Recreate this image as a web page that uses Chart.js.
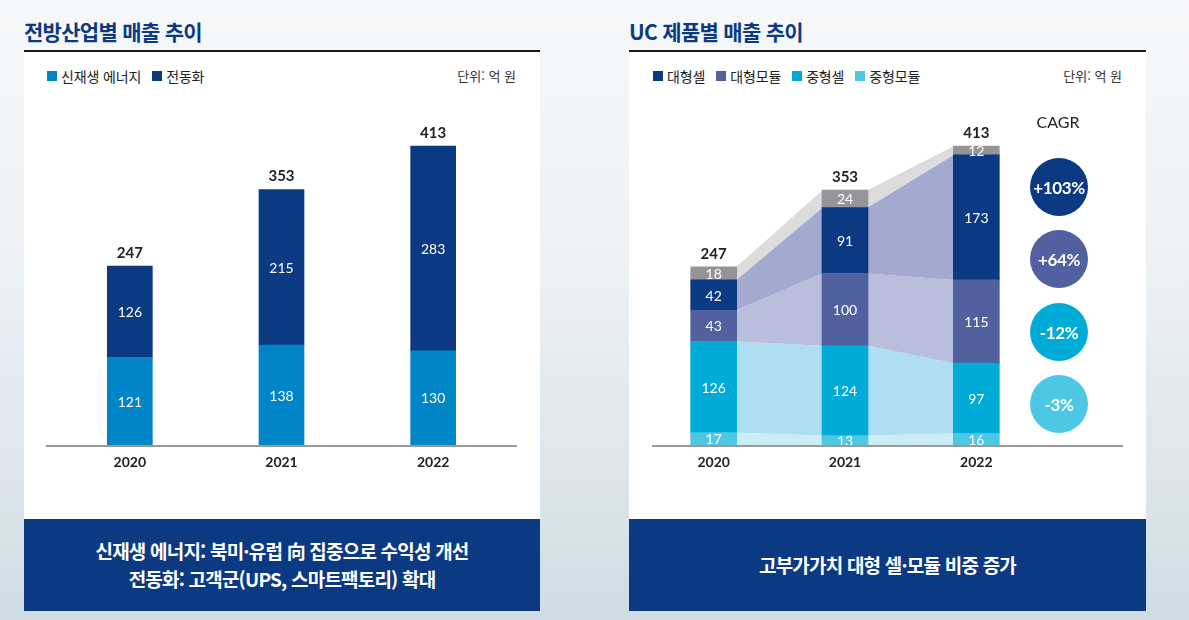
<!DOCTYPE html>
<html lang="ko">
<head>
<meta charset="utf-8">
<script src="https://cdn.jsdelivr.net/npm/chart.js@4/dist/chart.umd.min.js"></script>
<style>
  html,body{margin:0;padding:0;}
  body{width:1189px;height:620px;overflow:hidden;position:relative;
    background:linear-gradient(to bottom,#f6f8fa 0%,#eef2f5 40%,#dde6ec 75%,#cfdce4 100%);
    font-family:"Noto Sans CJK KR","Noto Sans",sans-serif;}
  .title{position:absolute;top:17px;font-size:21px;font-weight:700;color:#0b3a82;letter-spacing:-0.7px;line-height:28px;white-space:nowrap;}
  .rule{position:absolute;top:50px;height:2px;background:#1a1a1a;}
  .card{position:absolute;top:52px;height:467px;background:#fff;}
  .box{position:absolute;top:519px;height:92px;background:#0b3a82;color:#fff;font-weight:700;font-size:19px;letter-spacing:-0.8px;
    display:flex;flex-direction:column;justify-content:center;align-items:center;line-height:28px;}
  .legend{position:absolute;top:66px;display:flex;align-items:center;font-size:14px;color:#222;letter-spacing:-0.15px;line-height:20px;}
  .legend .it{display:flex;align-items:center;margin-right:11px;}
  .legend .sw{width:10px;height:10px;margin-right:4px;}
  .unit{position:absolute;top:67px;font-size:13px;color:#333;line-height:18px;text-align:right;white-space:nowrap;}
  canvas{position:absolute;top:52px;}
  .cagr{position:absolute;left:1018px;width:80px;top:111px;text-align:center;font-family:Lato,sans-serif;font-size:16px;color:#222;line-height:22px;}
  .circ{position:absolute;width:58px;height:58px;border-radius:50%;color:#fff;font-family:Lato,sans-serif;font-weight:700;font-size:17px;letter-spacing:-0.4px;
    display:flex;align-items:center;justify-content:center;left:1030px;}
</style>
</head>
<body>
<div class="title" style="left:24px;">전방산업별 매출 추이</div>
<div class="title" style="left:629px;">UC 제품별 매출 추이</div>
<div class="rule" style="left:24px;width:516px;"></div>
<div class="rule" style="left:629px;width:517px;"></div>
<div class="card" style="left:24px;width:516px;"></div>
<div class="card" style="left:629px;width:517px;"></div>

<div class="legend" id="legL" style="left:47px;"></div>
<div class="legend" id="legR" style="left:653px;"></div>
<div class="unit" style="left:400px;width:116px;">단위: 억 원</div>
<div class="unit" style="left:1006px;width:116px;">단위: 억 원</div>

<canvas id="cL" width="516" height="466" style="left:24px;"></canvas>
<canvas id="cR" width="517" height="466" style="left:629px;"></canvas>

<div class="cagr">CAGR</div>
<div id="circles"></div>

<div class="box" style="left:24px;width:516px;">
  <div>신재생 에너지: 북미·유럽 向 집중으로 수익성 개선</div>
  <div>전동화: 고객군(UPS, 스마트팩토리) 확대</div>
</div>
<div class="box" style="left:629px;width:517px;">
  <div>고부가가치 대형 셀·모듈 비중 증가</div>
</div>

<script>
// ---------- data ----------
const years = ['2020', '2021', '2022'];

// left chart: 전방산업별
const leftSeriesNames = ['신재생 에너지', '전동화'];
const renewable = [121, 138, 130];
const electrification = [126, 215, 283];
const leftTotals = [247, 353, 413];

// right chart: UC 제품별 (bottom to top)
const rightSeriesNames = ['중형모듈', '중형셀', '대형모듈', '대형셀', '기타'];
const midModule = [17, 13, 16];
const midCell = [126, 124, 97];
const largeModule = [43, 100, 115];
const largeCell = [42, 91, 173];
const others = [18, 24, 12];
const rightTotals = [247, 353, 413];

const legendRightOrder = ['대형셀', '대형모듈', '중형셀', '중형모듈'];
const cagrLabels = ['+103%', '+64%', '-12%', '-3%'];

// ---------- styles ----------
const C = {
  navy: '#0b3a82', blue: '#0086c8', purple: '#51609e', cyan: '#00acd7', lcyan: '#4dc8e4', gray: '#949599'
};
const leftColors = [C.blue, C.navy];
const rightColors = [C.lcyan, C.cyan, C.purple, C.navy, C.gray];
const rightAreaColors = ['#cdedf6', '#addff0', '#b9bedd', '#a3a9cf', '#dcdcdd'];
const rightLegendColors = { '대형셀': C.navy, '대형모듈': C.purple, '중형셀': C.cyan, '중형모듈': C.lcyan };
const cagrColors = [C.navy, C.purple, C.cyan, C.lcyan];

// ---------- html legends & circles ----------
function legend(el, names, colors) {
  names.forEach((n, i) => {
    const it = document.createElement('div'); it.className = 'it';
    const sw = document.createElement('div'); sw.className = 'sw'; sw.style.background = colors[i];
    const tx = document.createElement('span'); tx.textContent = n;
    it.appendChild(sw); it.appendChild(tx); el.appendChild(it);
  });
}
legend(document.getElementById('legL'), leftSeriesNames, leftColors);
legend(document.getElementById('legR'), legendRightOrder, legendRightOrder.map(n => rightLegendColors[n]));
const circTops = [158, 230, 303, 375];
cagrLabels.forEach((t, i) => {
  const d = document.createElement('div'); d.className = 'circ';
  d.style.top = circTops[i] + 'px'; d.style.background = cagrColors[i]; d.textContent = t;
  document.getElementById('circles').appendChild(d);
});

// ---------- plugins ----------
function labelPlugin(totals, axisFrom, axisTo) {
  return {
    id: 'labels',
    afterDatasetsDraw(chart) {
      const ctx = chart.ctx; ctx.save();
      ctx.textAlign = 'center'; ctx.textBaseline = 'middle';
      ctx.font = '14px Lato'; ctx.fillStyle = '#fff';
      chart.data.datasets.forEach((ds, i) => {
        chart.getDatasetMeta(i).data.forEach((el, j) => {
          ctx.fillText(String(ds.data[j]), el.x, (el.y + el.base) / 2 + 1);
        });
      });
      const top = chart.getDatasetMeta(chart.data.datasets.length - 1).data;
      ctx.font = 'bold 15px Lato'; ctx.fillStyle = '#222';
      top.forEach((el, j) => ctx.fillText(String(totals[j]), el.x, el.y - 13));
      const yb = chart.chartArea.bottom + 1;
      ctx.strokeStyle = '#9a9a9a'; ctx.lineWidth = 2;
      ctx.beginPath(); ctx.moveTo(axisFrom, yb); ctx.lineTo(axisTo, yb); ctx.stroke();
      ctx.restore();
    }
  };
}
const areaPlugin = {
  id: 'areas',
  beforeDatasetsDraw(chart) {
    const ctx = chart.ctx; ctx.save();
    chart.data.datasets.forEach((ds, i) => {
      const els = chart.getDatasetMeta(i).data;
      ctx.fillStyle = rightAreaColors[i];
      for (let j = 0; j < els.length - 1; j++) {
        const a = els[j], b = els[j + 1];
        const ax = a.x + a.width / 2 - 0.5, bx = b.x - b.width / 2 + 0.5;
        ctx.beginPath();
        ctx.moveTo(ax, a.y); ctx.lineTo(bx, b.y); ctx.lineTo(bx, b.base); ctx.lineTo(ax, a.base);
        ctx.closePath(); ctx.fill();
      }
    });
    ctx.restore();
  }
};

function baseOptions(padRight, padLeft) {
  return {
    responsive: false, animation: false, events: [],
    layout: { padding: { top: 60, bottom: 43, left: padLeft, right: padRight } },
    plugins: { legend: { display: false }, tooltip: { enabled: false } },
    scales: {
      x: {
        stacked: true,
        grid: { display: false, drawTicks: false, tickLength: 0 },
        border: { display: false },
        ticks: { color: '#222', padding: 9, font: { family: 'Lato', size: 14, weight: 'bold' } },
        afterFit(s) { s.height = 30; }
      },
      y: { stacked: true, display: false, min: 0, max: 460 }
    }
  };
}

new Chart(document.getElementById('cL'), {
  type: 'bar',
  data: {
    labels: years,
    datasets: [
      { label: leftSeriesNames[0], data: renewable, backgroundColor: leftColors[0], barThickness: 45, borderWidth: 0 },
      { label: leftSeriesNames[1], data: electrification, backgroundColor: leftColors[1], barThickness: 45, borderWidth: 0 }
    ]
  },
  options: baseOptions(31, 30),
  plugins: [labelPlugin(leftTotals, 22, 493)]
});

const rightData = [midModule, midCell, largeModule, largeCell, others];
new Chart(document.getElementById('cR'), {
  type: 'bar',
  data: {
    labels: years,
    datasets: rightData.map((d, i) => ({
      label: rightSeriesNames[i], data: d, backgroundColor: rightColors[i], barThickness: 46, borderWidth: 0
    }))
  },
  options: baseOptions(104, 19),
  plugins: [areaPlugin, labelPlugin(rightTotals, 23, 494)]
});
</script>
</body>
</html>
